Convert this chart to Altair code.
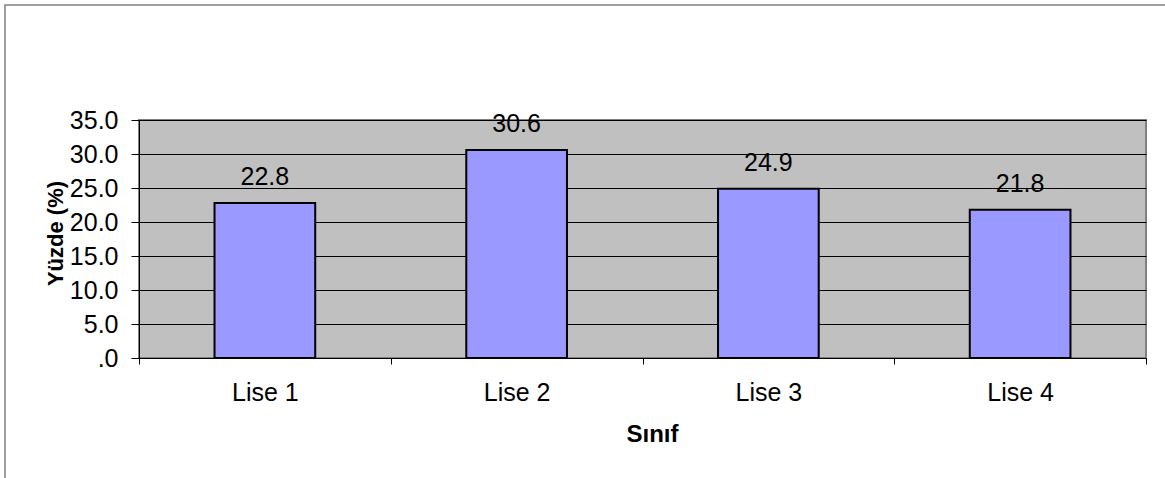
import altair as alt
import pandas as pd

# Percentage by class level
classes = ["Lise 1", "Lise 2", "Lise 3", "Lise 4"]
percent = [22.8, 30.6, 24.9, 21.8]
y_ticks = [0, 5, 10, 15, 20, 25, 30, 35]

FONT = "Liberation Sans"
W, H = 1007, 238

df = pd.DataFrame({"Sınıf": classes, "Yüzde": percent})

x_enc = alt.X(
    "Sınıf:N",
    sort=classes,
    scale=alt.Scale(paddingInner=0, paddingOuter=0),
    axis=alt.Axis(
        title="Sınıf",
        labelAngle=0,
        tickBand="extent",
        tickSize=6,
        tickColor="black",
        domainColor="black",
        labelFont=FONT,
        labelFontSize=25,
        labelColor="black",
        labelPadding=16,
        labelOverlap=False,
        titleFont=FONT,
        titleFontSize=24,
        titleFontWeight="bold",
        titleColor="black",
        titleX=513,
        titleY=83,
        titleBaseline="alphabetic",
        titleAlign="center",
    ),
)

y_enc = alt.Y(
    "Yüzde:Q",
    scale=alt.Scale(domain=[0, 35], nice=False),
    axis=alt.Axis(
        title="Yüzde (%)",
        values=y_ticks,
        labelExpr="datum.value == 0 ? '.0' : format(datum.value, '.1f')",
        labelOverlap=False,
        grid=True,
        gridColor="black",
        gridWidth=1,
        tickSize=8,
        tickColor="black",
        domainColor="black",
        labelFont=FONT,
        labelFontSize=25,
        labelColor="black",
        labelPadding=13,
        titleFont=FONT,
        titleFontSize=22,
        titleFontWeight="bold",
        titleColor="black",
        titleAngle=270,
        titleX=-84,
        titleY=113,
        titleAlign="center",
        titleBaseline="middle",
    ),
)

base = alt.Chart(df)

bars = base.mark_bar(
    width=alt.RelativeBandSize(0.4),
    fill="#9999FF",
    stroke="black",
    strokeWidth=2,
).encode(x=x_enc, y=y_enc)

labels = base.mark_text(
    dy=-18,
    baseline="alphabetic",
    align="center",
    font=FONT,
    fontSize=25,
    color="black",
).encode(x=x_enc, y=y_enc, text=alt.Text("Yüzde:Q", format=".1f"))

# outer chart-area frame
frame = alt.Chart(pd.DataFrame({"f": [0]})).mark_rect(
    fillOpacity=0, stroke="#808080", strokeWidth=1.5
).encode(
    x=alt.value(-134), x2=alt.value(W + 60),
    y=alt.value(-115), y2=alt.value(H + 160),
)

chart = alt.layer(bars, labels, frame).properties(
    width=W,
    height=H,
    autosize=alt.AutoSizeParams(type="none"),
    padding={"left": 139, "top": 120, "right": 19, "bottom": 120},
    background="white",
).configure_view(
    fill="#C0C0C0",
    stroke="#808080",
    strokeWidth=2,
)

chart.save("out.html", embed_options={"renderer": "svg", "actions": False})
